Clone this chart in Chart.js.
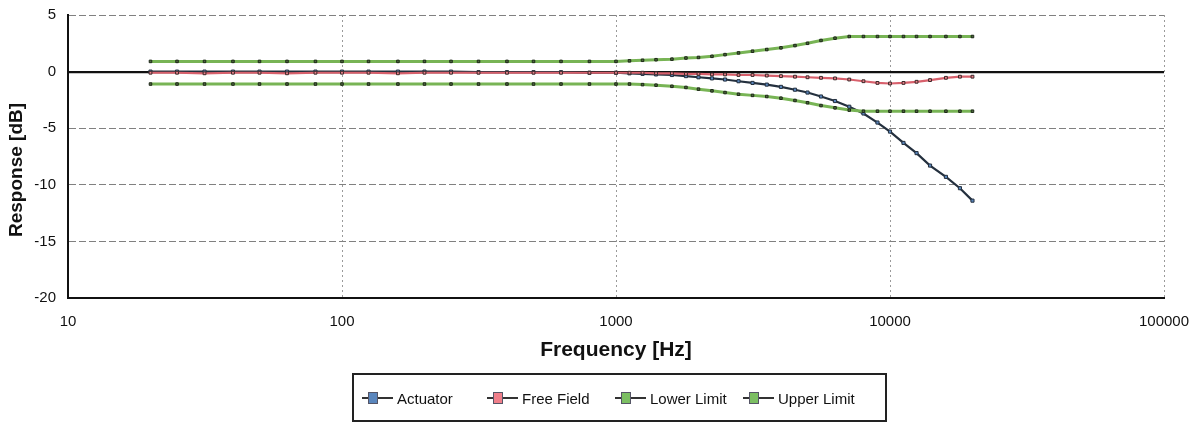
<!DOCTYPE html>
<html>
<head>
<meta charset="utf-8">
<script src="https://cdn.jsdelivr.net/npm/chart.js@4.4.1/dist/chart.umd.min.js"></script>
<style>
  html, body { margin:0; padding:0; background:#fff; }
  #wrap { position:relative; width:1196px; height:423px; overflow:hidden; }
  #c { position:absolute; left:0; top:0; }
  #legend { position:absolute; left:352px; top:373px; width:535px; height:49px; box-sizing:border-box;
            border:2px solid #222; font-family:'Liberation Sans', Arial, sans-serif; font-size:15px; color:#111; }
  .item { position:absolute; top:14px; height:18px; display:flex; align-items:center; white-space:nowrap; }
  .mk { position:relative; width:31px; height:14px; margin-right:4px; }
  .mk .ln { position:absolute; left:0; right:0; top:6px; height:2px; background:#333; }
  .mk .sq { position:absolute; left:6px; top:1px; width:10px; height:12px; box-sizing:border-box; border:1px solid #556; }
</style>
</head>
<body>
<div id="wrap">
  <canvas id="c" width="1196" height="423"></canvas>
  <div id="legend"></div>
</div>
<script>
// ---- data ----
const freqs = [20,25,31.5,40,50,63,80,100,125,160,200,250,315,400,500,630,800,
  1000,1120,1250,1400,1600,1800,2000,2240,2500,2800,3150,3550,4000,4500,5000,5600,6300,7100,8000,9000,10000,11200,12500,14000,16000,18000,20000];
const actuator = [0,0,0,0,0,0,0,0,0,0,0,0,-0.05,-0.05,-0.05,-0.05,-0.1,
  -0.1,-0.15,-0.2,-0.25,-0.3,-0.4,-0.5,-0.6,-0.7,-0.85,-1.0,-1.15,-1.35,-1.6,-1.85,-2.2,-2.6,-3.1,-3.7,-4.5,-5.3,-6.3,-7.2,-8.3,-9.3,-10.3,-11.4];
const freeField = [-0.1,-0.1,-0.15,-0.1,-0.1,-0.15,-0.1,-0.1,-0.1,-0.15,-0.1,-0.1,-0.1,-0.1,-0.1,-0.1,-0.1,
  -0.1,-0.1,-0.1,-0.15,-0.15,-0.2,-0.2,-0.25,-0.25,-0.3,-0.3,-0.35,-0.4,-0.45,-0.5,-0.55,-0.6,-0.7,-0.85,-1.0,-1.05,-1.0,-0.9,-0.75,-0.55,-0.45,-0.45];
const lowerLimit = [-1.1,-1.1,-1.1,-1.1,-1.1,-1.1,-1.1,-1.1,-1.1,-1.1,-1.1,-1.1,-1.1,-1.1,-1.1,-1.1,-1.1,
  -1.1,-1.1,-1.15,-1.2,-1.3,-1.4,-1.55,-1.7,-1.85,-2.0,-2.1,-2.2,-2.35,-2.55,-2.75,-3.0,-3.2,-3.4,-3.5,-3.5,-3.5,-3.5,-3.5,-3.5,-3.5,-3.5,-3.5];
const upperLimit = [0.9,0.9,0.9,0.9,0.9,0.9,0.9,0.9,0.9,0.9,0.9,0.9,0.9,0.9,0.9,0.9,0.9,
  0.9,0.95,1.0,1.05,1.1,1.2,1.25,1.35,1.5,1.65,1.8,1.95,2.1,2.3,2.5,2.75,2.95,3.1,3.1,3.1,3.1,3.1,3.1,3.1,3.1,3.1,3.1];
const xTicks = [10,100,1000,10000,100000];
const xTickLabels = ['10','100','1000','10000','100000'];
const seriesNames = ['Actuator','Free Field','Lower Limit','Upper Limit'];
const yTitle = 'Response [dB]';
const xTitle = 'Frequency [Hz]';

// ---- styles ----
const styles = [
  {line:'#24303e', width:2.2, fill:'#5a86bd', edge:'#24303e', r:2.2},
  {line:'#d8606c', width:2.2, fill:'#f07f8a', edge:'#3a2a2a', r:2.0},
  {line:'#78b455', width:3,   fill:'#4b6b3a', edge:'#1e261a', r:1.8},
  {line:'#78b455', width:3,   fill:'#4b6b3a', edge:'#1e261a', r:1.8}
];
const seriesValues = [actuator, freeField, lowerLimit, upperLimit];

Chart.defaults.font.family = "'Liberation Sans', Arial, sans-serif";
Chart.defaults.color = '#111';

const datasets = seriesValues.map((vals, i) => ({
  label: seriesNames[i],
  data: freqs.map((f, j) => ({x: f, y: vals[j]})),
  borderColor: styles[i].line,
  borderWidth: styles[i].width,
  pointStyle: 'rect',
  pointRadius: styles[i].r,
  pointBackgroundColor: styles[i].fill,
  pointBorderColor: styles[i].edge,
  pointBorderWidth: 1,
  tension: 0,
  fill: false
}));
const ordered = [datasets[2], datasets[3], datasets[1], datasets[0]];

const yTitlePlugin = {
  id: 'yTitle',
  afterDraw(chart) {
    const ctx = chart.ctx;
    ctx.save();
    ctx.translate(17, 170);
    ctx.rotate(-Math.PI / 2);
    ctx.font = "bold 19px 'Liberation Sans', Arial, sans-serif";
    ctx.fillStyle = '#111';
    ctx.textAlign = 'center';
    ctx.textBaseline = 'middle';
    ctx.fillText(yTitle, 0, 0);
    ctx.restore();
  }
};

new Chart(document.getElementById('c'), {
  type: 'line',
  data: { datasets: ordered },
  plugins: [yTitlePlugin],
  options: {
    responsive: false,
    animation: false,
    events: [],
    layout: { padding: { top: 0, left: 4, right: 32, bottom: 0 } },
    plugins: { legend: { display: false }, tooltip: { enabled: false } },
    scales: {
      x: {
        type: 'logarithmic', min: 10, max: 100000,
        afterBuildTicks: s => { s.ticks = xTicks.map(v => ({ value: v })); },
        afterFit: s => { s.height = 125; s.paddingLeft = 0; s.paddingRight = 0; },
        ticks: { autoSkip: false, maxRotation: 0, padding: 15, font: { size: 15 },
                 callback: (v, i) => xTickLabels[i] },
        grid: { drawTicks: false, lineWidth: 1,
                color: c => (c.tick && c.tick.value === 10) ? 'rgba(0,0,0,0)' : '#9a9a9a' },
        border: { display: true, color: '#111', width: 2, dash: c => (c.tick ? [2, 3] : []) },
        title: { display: true, text: xTitle, font: { size: 21, weight: 'bold' },
                 padding: { top: 0, bottom: 60 } }
      },
      y: {
        min: -20, max: 5,
        afterFit: s => { s.width = 64; s.paddingTop = 15; s.paddingBottom = 0; },
        ticks: { stepSize: 5, padding: 12, font: { size: 15 } },
        grid: { drawTicks: false,
                color: c => { if (!c.tick) return '#999'; const v = c.tick.value;
                  return v === 0 ? '#111' : (v === -20 ? 'rgba(0,0,0,0)' : '#808080'); },
                lineWidth: c => (c.tick && c.tick.value === 0) ? 2.2 : 1 },
        border: { display: true, color: '#111', width: 2,
                  dash: c => (c.tick && c.tick.value !== 0) ? [7, 3] : [] },
        title: { display: false }
      }
    }
  }
});

// ---- legend (HTML) ----
const legendLefts = [8, 133, 261, 389];
const legendColors = ['#5a86bd', '#f07f8a', '#7cbf63', '#7cbf63'];
const legend = document.getElementById('legend');
seriesNames.forEach((name, i) => {
  const it = document.createElement('div');
  it.className = 'item';
  it.style.left = legendLefts[i] + 'px';
  const mk = document.createElement('div');
  mk.className = 'mk';
  const ln = document.createElement('div'); ln.className = 'ln';
  const sq = document.createElement('div'); sq.className = 'sq';
  sq.style.background = legendColors[i];
  mk.appendChild(ln); mk.appendChild(sq);
  const tx = document.createElement('span'); tx.textContent = name;
  it.appendChild(mk); it.appendChild(tx);
  legend.appendChild(it);
});
</script>
</body>
</html>
